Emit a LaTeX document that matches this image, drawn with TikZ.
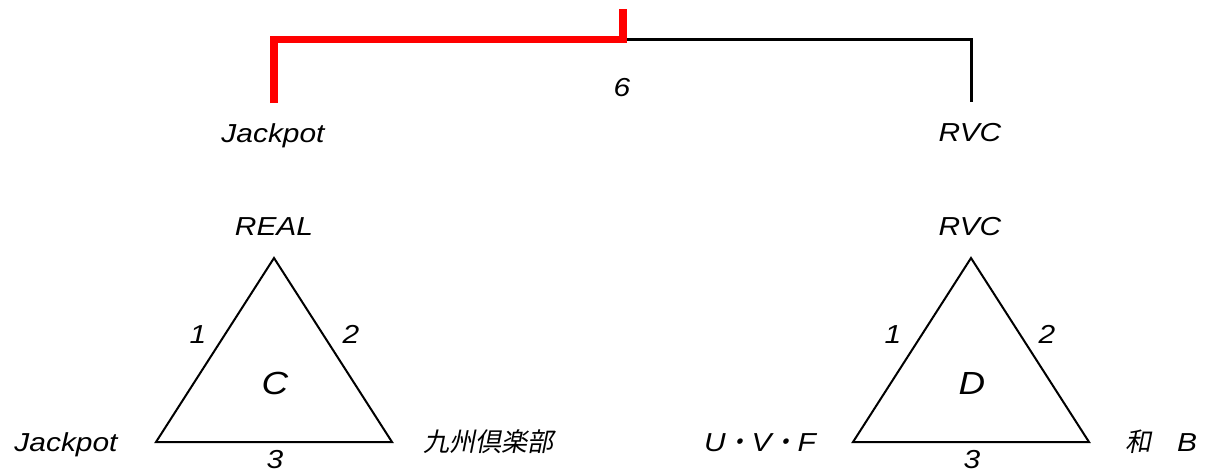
\documentclass[tikz,border=0pt]{standalone}
\usepackage{fontspec}
\setmainfont{Liberation Sans}[FakeStretch=1.15]
\newfontfamily\cjk{Noto Sans CJK JP}[FakeSlant=0.2]
\begin{document}
\begin{tikzpicture}[x=1pt,y=-1pt,
  lbl/.style={inner sep=0pt, anchor=base, font=\fontsize{26}{30}\selectfont\itshape},
  big/.style={inner sep=0pt, anchor=base, font=\fontsize{32}{36}\selectfont\itshape},
  tri/.style={draw=black, line width=2pt, line join=miter},
  winline/.style={draw=red, line width=7.5pt, line join=miter},
  loseline/.style={draw=black, line width=3pt}]
\useasboundingbox (0,0) rectangle (1206,472);
% bracket
\coordinate (root) at (623,9);
\coordinate (mid) at (623,39.5);
\coordinate (ltop) at (274,103);
\coordinate (rtop) at (971,102);
\draw[loseline] (mid) -| (rtop);
\draw[winline] (ltop) |- (mid) -- (root);
\node[lbl] (six) at (622,96) {6};
\node[lbl] (jk) at (273,142) {Jackpot};
\node[lbl] (rvc) at (970,141) {RVC};
% triangle C
\coordinate (ca) at (274,258);
\coordinate (cb) at (156,442);
\coordinate (cc) at (392,442);
\draw[tri] (ca) -- (cb) -- (cc) -- cycle;
\node[lbl] (cA) at (274,235) {REAL};
\node[lbl] (cB) at (66,451) {Jackpot};
\node[lbl] (cC) at (488,451) {{\cjk 九州倶楽部}};
\node[lbl] (c1) at (198,343) {1};
\node[lbl] (c2) at (351,343) {2};
\node[lbl] (c3) at (275,468) {3};
\node[big] (cl) at (275,394) {C};
% triangle D
\coordinate (da) at (971,258);
\coordinate (db) at (853,442);
\coordinate (dc) at (1089,442);
\draw[tri] (da) -- (db) -- (dc) -- cycle;
\node[lbl] (dA) at (970,235) {RVC};
\node[lbl] (dB) at (760,451) {U{\cjk ・}V{\cjk ・}F};
\node[lbl] (dC) at (1161,451) {{\cjk 和　}B};
\node[lbl] (d1) at (893,343) {1};
\node[lbl] (d2) at (1047,343) {2};
\node[lbl] (d3) at (972,468) {3};
\node[big] (dl) at (972,394) {D};
\end{tikzpicture}
\end{document}
